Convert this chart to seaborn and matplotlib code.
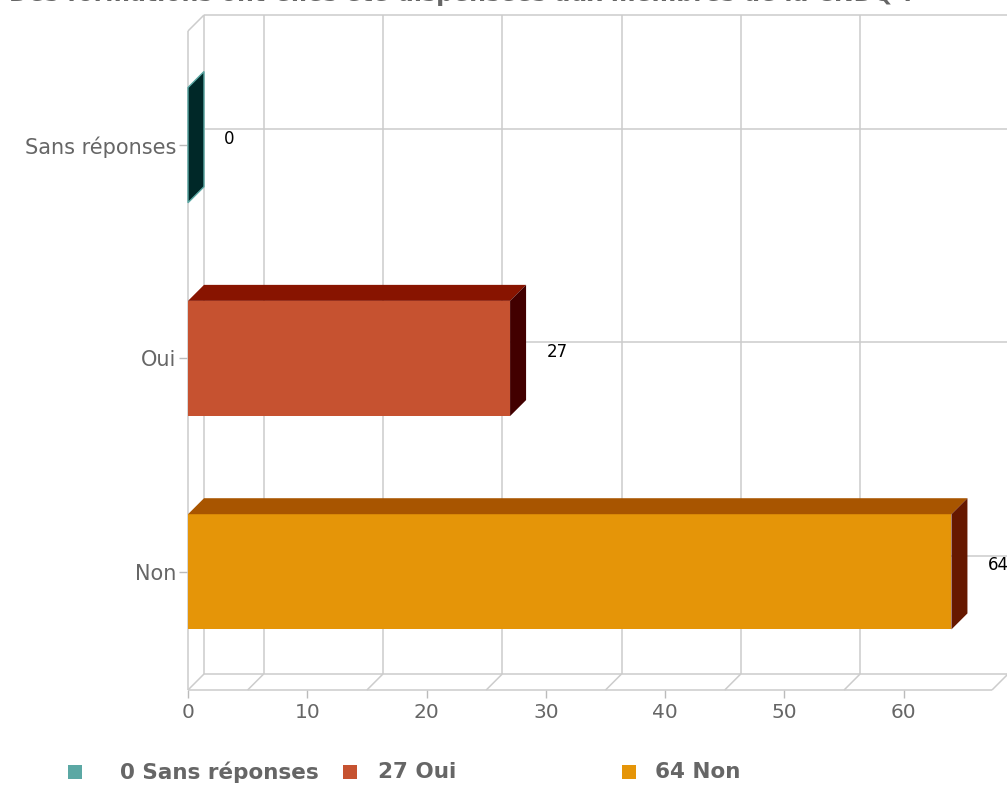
import matplotlib
matplotlib.use("Agg")
import matplotlib.pyplot as plt
from matplotlib.patches import Polygon, Rectangle
import seaborn as sns
import numpy as np

# data
categories = ["Sans réponses", "Oui", "Non"]
values = [0, 27, 64]
front_colors = ["#5ba8a4", "#c65230", "#e59508"]
top_colors = ["#0a4444", "#881400", "#a85500"]
side_colors = ["#002828", "#420000", "#661800"]
x_ticks = [0, 10, 20, 30, 40, 50, 60]
title = "- Des formations ont-elles été dispensées aux membres de la CNDQ ?"

sns.set_style("white")
plt.rcParams["font.family"] = ["DejaVu Sans"]

W, H = 1007, 786
fig = plt.figure(figsize=(W / 100, H / 100), dpi=100)

# front plane of the plot box in pixels
px_left, px_right = 188, 992
px_top, px_bottom = 15, 690
ax = fig.add_axes([px_left / W, 1 - px_bottom / H, (px_right - px_left) / W, (px_bottom - px_top) / H])

xmax = 67.4
ytop, ybot = -0.61, 2.554
dx = 16 / ((px_right - px_left) / xmax)       # depth offset in data units
dy = -16 / ((px_bottom - px_top) / (ybot - ytop))
bar_h = 0.54

sns.barplot(x=values, y=categories, hue=categories, palette=front_colors, orient="h",
            width=bar_h, saturation=1, legend=False, linewidth=0, ax=ax, zorder=3)

ax.set_xlim(0, xmax)
ax.set_ylim(ybot, ytop)
for s in ax.spines.values():
    s.set_visible(False)
ax.grid(False)

grid_c = "#cccccc"
lw = 1.1
kw = dict(color=grid_c, lw=lw, clip_on=False, zorder=1, solid_capstyle="butt")
y_front_top = ytop - dy
# box edges
ax.plot([0, 0], [y_front_top, ybot], **kw)
ax.plot([dx, dx], [ytop, ybot + dy], **kw)
ax.plot([dx, xmax + dx], [ytop, ytop], **kw)
ax.plot([xmax + dx, xmax + dx], [ytop, ybot + dy], **kw)
ax.plot([dx, xmax + dx], [ybot + dy, ybot + dy], **kw)
ax.plot([0, xmax], [ybot, ybot], **kw)
ax.plot([0, dx], [y_front_top, ytop], **kw)
ax.plot([0, dx], [ybot, ybot + dy], **kw)
ax.plot([xmax, xmax + dx], [ybot, ybot + dy], **kw)
# back wall grid
for t in np.arange(5, 60, 10):
    ax.plot([t + dx, t + dx], [ytop, ybot + dy], **kw)
    ax.plot([t, t + dx], [ybot, ybot + dy], **kw)
for i in range(len(categories)):
    ax.plot([dx, xmax + dx], [i + dy, i + dy], **kw)

# 3d faces and value labels
for i, v in enumerate(values):
    y0, y1 = i - bar_h / 2, i + bar_h / 2
    top = Polygon([(0, y0), (v, y0), (v + dx, y0 + dy), (dx, y0 + dy)],
                  closed=True, fc=top_colors[i], ec="none", zorder=3, clip_on=False)
    side = Polygon([(v, y0), (v + dx, y0 + dy), (v + dx, y1 + dy), (v, y1)],
                   closed=True, fc=side_colors[i], zorder=3, clip_on=False,
                   ec=front_colors[i] if v == 0 else "none", lw=1)
    ax.add_patch(top)
    ax.add_patch(side)
    ax.text(v + dx + 1.7, i - 0.03, str(v), ha="left", va="center",
            fontsize=12, color="black", zorder=4, clip_on=False)

ax.set_xticks(x_ticks)
ax.set_xticklabels([str(t) for t in x_ticks])
ax.set_xlabel("")
ax.set_ylabel("")
ax.tick_params(axis="x", bottom=True, length=6, width=1, color="#bbbbbb", pad=3,
               labelsize=14.5, labelcolor="#666666")
ax.tick_params(axis="y", left=True, length=6.5, width=1, color="#bbbbbb", pad=2,
               labelsize=15, labelcolor="#666666")

# legend drawn by hand to copy its uneven spacing
leg_sq_x = [68, 343, 622]
leg_txt_x = [120, 378, 655]
leg_y = 772
for i, (c, v) in enumerate(zip(categories, values)):
    fig.patches.append(Rectangle((leg_sq_x[i] / W, 1 - (leg_y + 7) / H), 14 / W, 14 / H,
                                 transform=fig.transFigure, fc=front_colors[i], ec="none"))
    fig.text(leg_txt_x[i] / W, 1 - leg_y / H, f"{v} {c}", ha="left", va="center",
             fontsize=15.5, fontweight="bold", color="#666666")

# title is cut off by the top edge in the reference
fig.text(915 / W, 1 - 1 / H, title, ha="right", va="baseline",
         fontsize=17, fontweight="bold", color="#666666")

fig.savefig("out.png", dpi=100)
